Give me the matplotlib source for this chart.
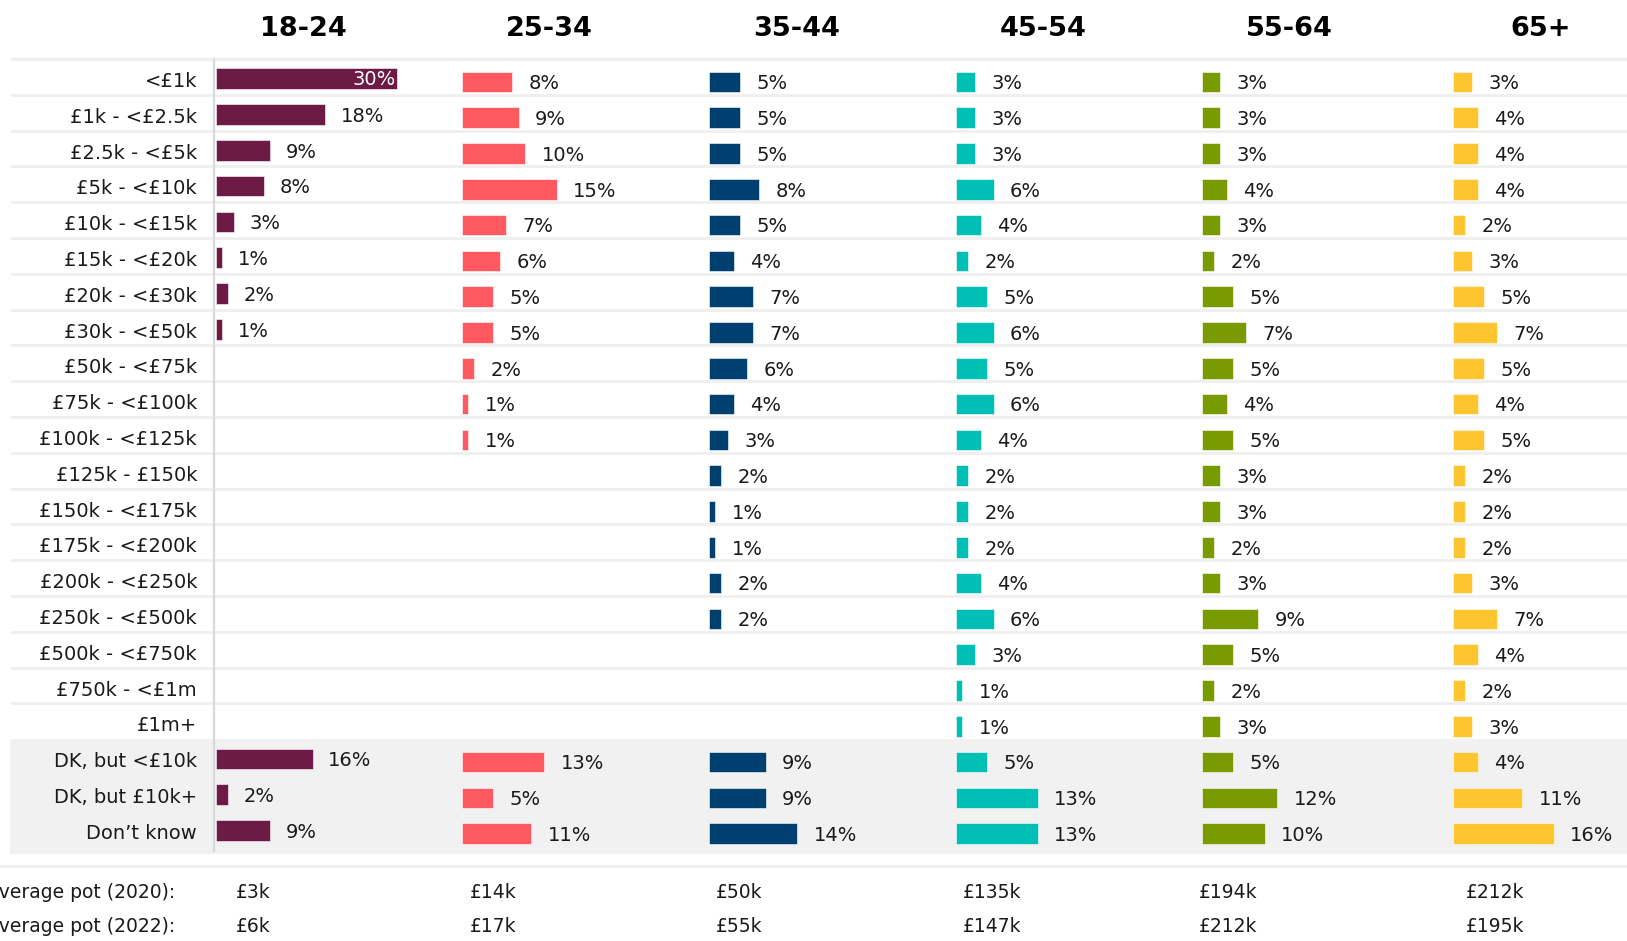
import matplotlib
matplotlib.use("Agg")
import matplotlib.pyplot as plt
from matplotlib.patches import Rectangle

W, H = 1627, 941

CATEGORIES = ["<£1k", "£1k - <£2.5k", "£2.5k - <£5k", "£5k - <£10k", "£10k - <£15k",
              "£15k - <£20k", "£20k - <£30k", "£30k - <£50k", "£50k - <£75k",
              "£75k - <£100k", "£100k - <£125k", "£125k - £150k", "£150k - <£175k",
              "£175k - <£200k", "£200k - <£250k", "£250k - <£500k", "£500k - <£750k",
              "£750k - <£1m", "£1m+", "DK, but <£10k", "DK, but £10k+", "Don\u2019t know"]

AGE_GROUPS = ["18-24", "25-34", "35-44", "45-54", "55-64", "65+"]

N = None
share_18_24 = [30, 18, 9, 8, 3, 1, 2, 1, N, N, N, N, N, N, N, N, N, N, N, 16, 2, 9]
share_25_34 = [8, 9, 10, 15, 7, 6, 5, 5, 2, 1, 1, N, N, N, N, N, N, N, N, 13, 5, 11]
share_35_44 = [5, 5, 5, 8, 5, 4, 7, 7, 6, 4, 3, 2, 1, 1, 2, 2, N, N, N, 9, 9, 14]
share_45_54 = [3, 3, 3, 6, 4, 2, 5, 6, 5, 6, 4, 2, 2, 2, 4, 6, 3, 1, 1, 5, 13, 13]
share_55_64 = [3, 3, 3, 4, 3, 2, 5, 7, 5, 4, 5, 3, 3, 2, 3, 9, 5, 2, 3, 5, 12, 10]
share_65_plus = [3, 4, 4, 4, 2, 3, 5, 7, 5, 4, 5, 2, 2, 2, 3, 7, 4, 2, 3, 4, 11, 16]
SHARES = [share_18_24, share_25_34, share_35_44, share_45_54, share_55_64, share_65_plus]

AVG_POT_2020 = ["£3k", "£14k", "£50k", "£135k", "£194k", "£212k"]
AVG_POT_2022 = ["£6k", "£17k", "£55k", "£147k", "£212k", "£195k"]

COLORS = ["#6d1a45", "#ff5a5f", "#004070", "#00c0b5", "#7a9a01", "#ffc52f"]

# layout (pixels of the 1627x941 canvas)
ROW_TOP = 59
ROW_H = 35.8
N_ROWS = len(CATEGORIES)
COL_LEFT = [215.8, 461.7, 708.7, 955.6, 1201.5, 1452.6]
PX_PER_PCT = [6.05, 6.33, 6.33, 6.33, 6.33, 6.33]
BAR_OFFSET = [0.55, 0.64, 0.64, 0.64, 0.64, 0.64]
COL_W = 240
POT_X = [235.5, 470, 716, 963, 1198.5, 1466]
FS = 14
TXT = "#1a1a1a"
LINE = "#efefef"

plt.rcParams['font.family'] = ['DejaVu Sans']

fig = plt.figure(figsize=(W / 100, H / 100), dpi=100)
fig.patch.set_facecolor("white")

# background canvas for separators / shaded DK block
bg = fig.add_axes([0, 0, 1, 1], zorder=0)
bg.set_xlim(0, W)
bg.set_ylim(H, 0)
bg.axis("off")

def row_y(i):
    return ROW_TOP + i * ROW_H

dk_top = row_y(19)
bg.add_patch(Rectangle((10.5, dk_top), W - 10.5, 854 - dk_top, color="#f1f1f1", lw=0))
bg.plot([12.5, W], [ROW_TOP, ROW_TOP], color=LINE, lw=2.4)
for i in range(1, 19):
    bg.plot([12.5, W], [row_y(i), row_y(i)], color=LINE, lw=2.0)
bg.plot([0, W], [866, 866], color=LINE, lw=2.0)
bg.plot([213.7, 213.7], [ROW_TOP, 851], color="#d9d9d9", lw=1.6)

# column headers
for left, name in zip(COL_LEFT, AGE_GROUPS):
    bg.text(left + 88, 29, name, ha="center", va="center", fontsize=19.5,
            fontweight="bold", color="black")

bottom = 1 - (ROW_TOP + N_ROWS * ROW_H) / H
height = N_ROWS * ROW_H / H

for k, (vals, color) in enumerate(zip(SHARES, COLORS)):
    ax = fig.add_axes([COL_LEFT[k] / W, bottom, COL_W / W, height], zorder=2)
    ax.patch.set_alpha(0)
    ax.set_xlim(0, COL_W / PX_PER_PCT[k])
    ax.set_ylim(N_ROWS, 0)
    ys = [i + BAR_OFFSET[k] for i, v in enumerate(vals) if v is not None]
    xs = [v for v in vals if v is not None]
    ax.barh(ys, xs, height=0.58, color=color, edgecolor="white", linewidth=0.4)
    vmax = max(xs)
    for y, v in zip(ys, xs):
        if k == 0 and v == vmax:
            ax.text(v - 0.2, y + 0.03, f"{v}%", ha="right", va="center",
                    fontsize=FS, color="white")
        else:
            ax.text(v + 2.6, y + 0.05, f"{v}%", ha="left", va="center",
                    fontsize=FS, color=TXT)
    for s in ax.spines.values():
        s.set_visible(False)
    ax.set_xticks([])
    if k == 0:
        ax.set_yticks([i + 0.57 for i in range(N_ROWS)])
        ax.set_yticklabels(CATEGORIES, fontsize=FS, color=TXT)
        ax.tick_params(axis="y", length=0, pad=13.5)
    else:
        ax.set_yticks([])

# average pot rows (label runs off the left edge, as in the source)
bg.text(175, 893, "Average pot (2020):", ha="right", va="center", fontsize=13.5, color=TXT)
bg.text(175, 926, "Average pot (2022):", ha="right", va="center", fontsize=13.5, color=TXT)
for x, a, b in zip(POT_X, AVG_POT_2020, AVG_POT_2022):
    bg.text(x, 893, a, ha="left", va="center", fontsize=13.5, color=TXT)
    bg.text(x, 926, b, ha="left", va="center", fontsize=13.5, color=TXT)

fig.savefig("out.png", dpi=100)
